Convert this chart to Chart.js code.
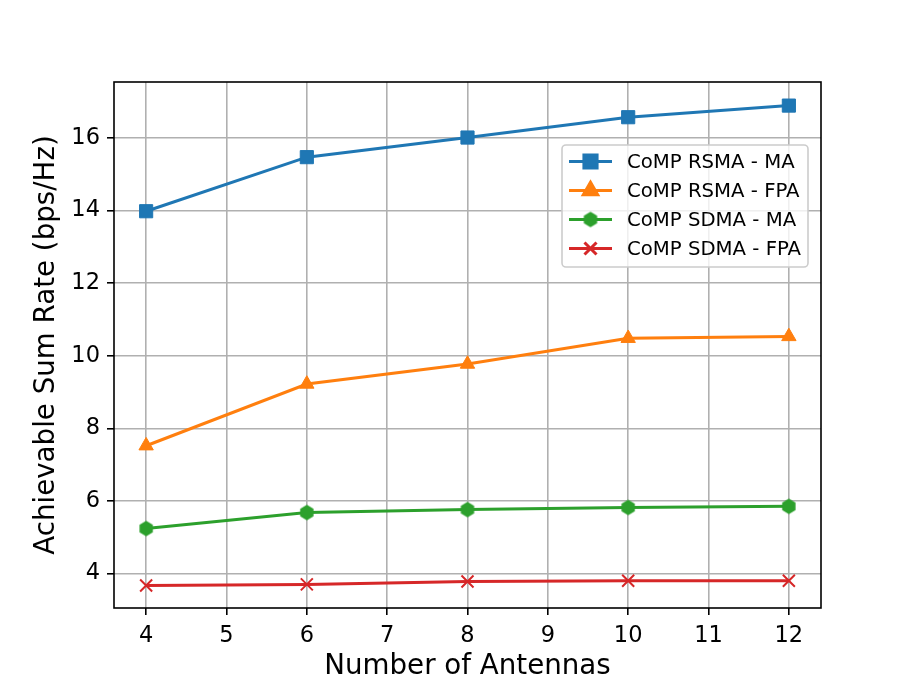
<!DOCTYPE html>
<html>
<head>
<meta charset="utf-8">
<script src="https://cdn.jsdelivr.net/npm/chart.js@4.4.1/dist/chart.umd.min.js"></script>
<style>
  html, body { margin: 0; padding: 0; background: #fff; }
</style>
</head>
<body>
<canvas id="chart" width="913" height="685"></canvas>
<script>
// values
const antennas = [4, 6, 8, 10, 12];
const rsmaMA = [13.98, 15.47, 16.01, 16.57, 16.89];
const rsmaFPA = [7.52, 9.22, 9.77, 10.48, 10.53];
const sdmaMA = [5.24, 5.68, 5.76, 5.82, 5.85];
const sdmaFPA = [3.67, 3.70, 3.78, 3.80, 3.80];
const seriesNames = ['CoMP RSMA - MA', 'CoMP RSMA - FPA', 'CoMP SDMA - MA', 'CoMP SDMA - FPA'];
const xTicks = [4, 5, 6, 7, 8, 9, 10, 11, 12];
const yTicks = [4, 6, 8, 10, 12, 14, 16];

const FONT = "'DejaVu Sans', sans-serif";

// matplotlib 'h' marker, Chart.js has no hexagon
function hexMarker(color, r) {
    const c = document.createElement('canvas');
    const s = Math.ceil(2 * r + 4);
    c.width = s;
    c.height = s;
    const g = c.getContext('2d');
    g.beginPath();
    for (let i = 0; i < 6; i++) {
        const a = -Math.PI / 2 + i * Math.PI / 3;
        const px = s / 2 + r * Math.cos(a), py = s / 2 + r * Math.sin(a);
        if (i) g.lineTo(px, py); else g.moveTo(px, py);
    }
    g.closePath();
    g.fillStyle = color;
    g.fill();
    return c;
}

const toPoints = (ys) => ys.map((y, i) => ({ x: antennas[i], y: y }));

const datasets = [
    { label: seriesNames[0], data: toPoints(rsmaMA), borderColor: '#1f77b4', backgroundColor: '#1f77b4',
      pointStyle: 'rect', pointRadius: 9.3, pointBorderWidth: 1 },
    { label: seriesNames[1], data: toPoints(rsmaFPA), borderColor: '#ff7f0e', backgroundColor: '#ff7f0e',
      pointStyle: 'triangle', pointRadius: 8.3, pointBorderWidth: 1 },
    { label: seriesNames[2], data: toPoints(sdmaMA), borderColor: '#2ca02c', backgroundColor: '#2ca02c',
      pointStyle: hexMarker('#2ca02c', 7.7), pointRadius: 7, pointBorderWidth: 1 },
    { label: seriesNames[3], data: toPoints(sdmaFPA), borderColor: '#d62728', backgroundColor: '#d62728',
      pointStyle: 'crossRot', pointRadius: 8.5, pointBorderWidth: 2 }
];
datasets.forEach(d => {
    d.borderWidth = 3;
    d.tension = 0;
    d.fill = false;
    d.pointHoverRadius = d.pointRadius;
});

// full black frame round the axes
const frame = {
    id: 'frame',
    afterDatasetsDraw(chart) {
        const { ctx, chartArea: a } = chart;
        ctx.save();
        ctx.strokeStyle = '#000';
        ctx.lineWidth = 1.6;
        ctx.strokeRect(a.left, a.top, a.right - a.left, a.bottom - a.top);
        ctx.restore();
    }
};

// matplotlib-like legend: line sample + marker, framed box
const legendBox = {
    id: 'legendBox',
    afterDraw(chart) {
        const { ctx, chartArea: a } = chart;
        const w = 246, h = 122;
        const x0 = a.right - 13 - w, y0 = a.top + 63;
        ctx.save();
        ctx.beginPath();
        ctx.roundRect(x0, y0, w, h, 4);
        ctx.fillStyle = 'rgba(255,255,255,0.8)';
        ctx.fill();
        ctx.strokeStyle = '#cccccc';
        ctx.lineWidth = 1.6;
        ctx.stroke();
        ctx.font = '19.7px ' + FONT;
        ctx.textBaseline = 'middle';
        ctx.textAlign = 'left';
        chart.data.datasets.forEach((d, i) => {
            const y = y0 + 16.5 + i * 29;
            ctx.strokeStyle = d.borderColor;
            ctx.lineWidth = 3;
            ctx.beginPath();
            ctx.moveTo(x0 + 7, y);
            ctx.lineTo(x0 + 50, y);
            ctx.stroke();
            ctx.fillStyle = d.backgroundColor;
            Chart.helpers.drawPoint(ctx, {
                pointStyle: d.pointStyle, radius: d.pointRadius, rotation: 0, borderWidth: d.pointBorderWidth
            }, x0 + 28.5, y);
            ctx.fillStyle = '#000';
            ctx.fillText(d.label, x0 + 65, y + 1);
        });
        ctx.restore();
    }
};

new Chart(document.getElementById('chart'), {
    type: 'line',
    data: { datasets: datasets },
    options: {
        responsive: false,
        animation: false,
        layout: { padding: { top: 82, right: 92, left: 0, bottom: 0 } },
        plugins: { legend: { display: false }, tooltip: { enabled: false } },
        scales: {
            x: {
                type: 'linear',
                min: 3.6,
                max: 12.4,
                afterBuildTicks: (s) => { s.ticks = xTicks.map(v => ({ value: v })); },
                afterFit: (s) => { s.height = 77; },
                grid: { color: '#b0b0b0', lineWidth: 1.6, tickColor: '#000', tickLength: 7, tickWidth: 1.6 },
                border: { display: false },
                ticks: { color: '#000', font: { family: FONT, size: 22.5 }, padding: 8, maxRotation: 0, autoSkip: false },
                title: { display: true, text: 'Number of Antennas', color: '#000',
                         font: { family: FONT, size: 27.7 }, padding: { top: 0, bottom: 2 } }
            },
            y: {
                min: 3.05,
                max: 17.54,
                afterBuildTicks: (s) => { s.ticks = yTicks.map(v => ({ value: v })); },
                afterFit: (s) => { s.width = 114; },
                grid: { color: '#b0b0b0', lineWidth: 1.6, tickColor: '#000', tickLength: 7, tickWidth: 1.6 },
                border: { display: false },
                ticks: { color: '#000', font: { family: FONT, size: 22.5 }, padding: 7 },
                title: { display: true, text: 'Achievable Sum Rate (bps/Hz)', color: '#000',
                         font: { family: FONT, size: 27.7 }, padding: { top: 30, bottom: 0 } }
            }
        }
    },
    plugins: [frame, legendBox]
});
</script>
</body>
</html>
